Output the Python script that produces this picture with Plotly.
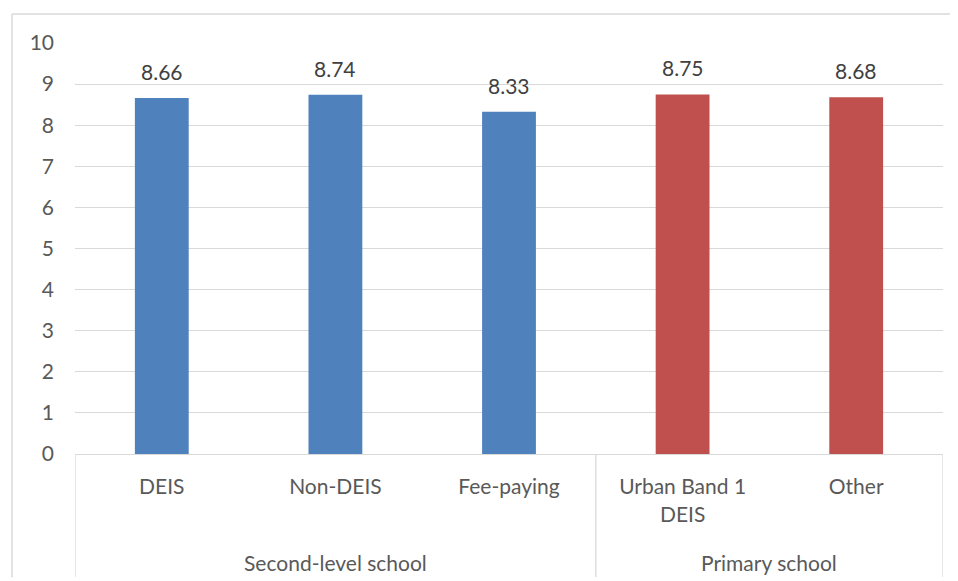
import plotly.graph_objects as go

# School groups, school types and mean scores
groups = ["Second-level school", "Second-level school", "Second-level school",
          "Primary school", "Primary school"]
school_types = ["DEIS", "Non-DEIS", "Fee-paying", "Urban Band 1<br>DEIS", "Other"]
scores = [8.66, 8.74, 8.33, 8.75, 8.68]
colours = ["#4F81BD", "#4F81BD", "#4F81BD", "#C0504D", "#C0504D"]
y_ticks = list(range(0, 11))

FONT = "Lato"
GRID = "#D9D9D9"
positions = list(range(len(school_types)))

fig = go.Figure()
fig.add_trace(go.Bar(
    x=positions,
    y=scores,
    marker=dict(color=colours, line=dict(width=0)),
    width=0.31,
    hoverinfo="x+y",
))

# data labels above the bars
for xpos, val in zip(positions, scores):
    fig.add_annotation(x=xpos, y=val, text=f"{val:.2f}", showarrow=False,
                       yanchor="bottom", yshift=12,
                       font=dict(family=FONT, size=21, color="#404040"))

# group labels and dividers under the category axis
group_names = list(dict.fromkeys(groups))
edges = [-0.5]
for name in group_names:
    idx = [i for i, g in enumerate(groups) if g == name]
    fig.add_annotation(x=sum(idx) / len(idx), y=-0.263, xref="x", yref="paper",
                       text=name, showarrow=False, yanchor="middle",
                       font=dict(family=FONT, size=21, color="#595959"))
    edges.append(idx[-1] + 0.5)
for e in edges:
    fig.add_shape(type="line", xref="x", yref="paper", x0=e, x1=e, y0=0, y1=-0.299,
                  line=dict(color=GRID, width=1.3))

# outer chart border (top and left edges visible)
fig.add_shape(type="line", xref="paper", yref="paper",
              x0=-0.0726, x1=1.05, y0=1.0706, y1=1.0706,
              line=dict(color=GRID, width=1.5))
fig.add_shape(type="line", xref="paper", yref="paper",
              x0=-0.0726, x1=-0.0726, y0=-0.3, y1=1.0706,
              line=dict(color=GRID, width=1.5))

# the page adds an 8px body margin, so the figure is 8px smaller on each side
fig.update_layout(
    width=950, height=573,
    margin=dict(l=67, r=15, t=35, b=127),
    plot_bgcolor="white", paper_bgcolor="white",
    showlegend=False,
    font=dict(family=FONT, size=21, color="#595959"),
    xaxis=dict(
        tickmode="array", tickvals=positions, ticktext=school_types,
        range=[-0.5, len(school_types) - 0.5],
        showgrid=False, zeroline=False,
        showline=True, linecolor=GRID, linewidth=1.3,
        ticks="", ticklabelstandoff=14, tickangle=0,
        tickfont=dict(family=FONT, size=21, color="#595959"),
    ),
    yaxis=dict(
        range=[0, 10], tickvals=y_ticks,
        showgrid=True, gridcolor=GRID, gridwidth=1.3,
        zeroline=False, showline=False,
        ticks="", ticklabelstandoff=20,
        tickfont=dict(family=FONT, size=21, color="#595959"),
    ),
)

fig.write_html("out.html")
